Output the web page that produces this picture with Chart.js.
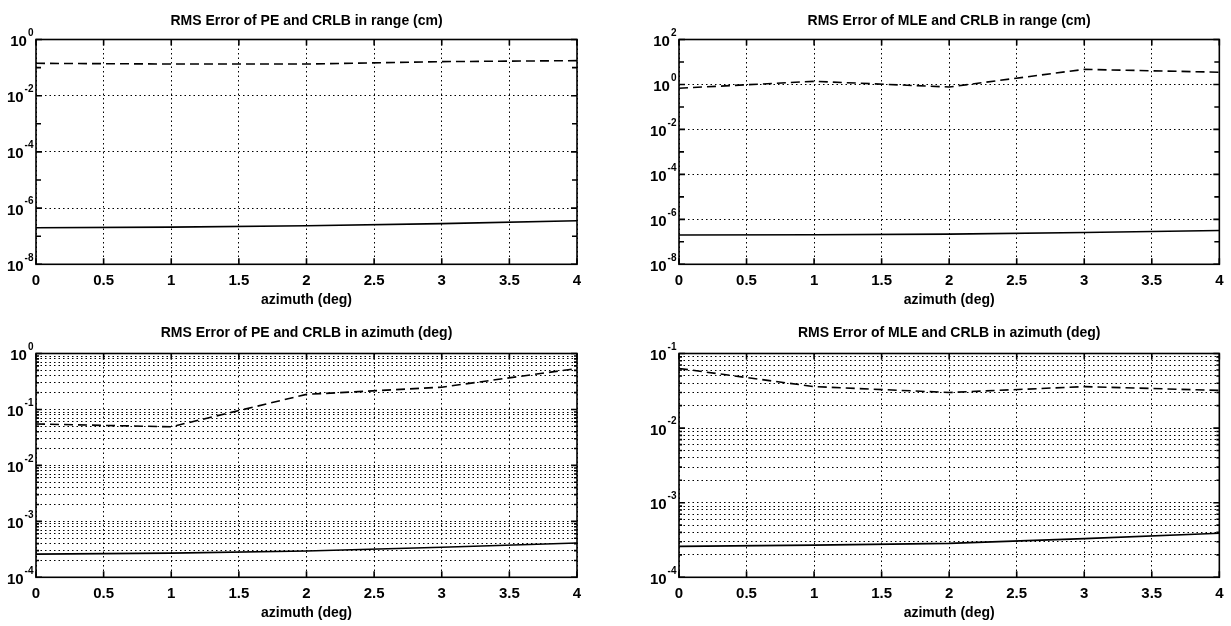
<!DOCTYPE html>
<html lang="en">
<head>
<meta charset="UTF-8" />
<title>RMS Error of PE / MLE and CRLB</title>
<style>
  body { margin: 0; background: #fff; }
  .wrap { position: relative; width: 1231px; height: 626px; }
  .wrap canvas { position: absolute; }
</style>
</head>
<body>
<div class="wrap">
  <canvas id="peRange" width="615" height="313" style="left:0;top:0"></canvas>
  <canvas id="mleRange" width="616" height="313" style="left:615px;top:0"></canvas>
  <canvas id="peAz" width="615" height="313" style="left:0;top:313px"></canvas>
  <canvas id="mleAz" width="616" height="313" style="left:615px;top:313px"></canvas>
</div>

<script src="https://cdn.jsdelivr.net/npm/chart.js"></script>
<script>
// azimuth values where the curves were computed
const azimuth = [0, 1, 2, 3, 4];
const xTicks = [0, 0.5, 1, 1.5, 2, 2.5, 3, 3.5, 4];

// range error (cm)
const peRangeErr = [0.142, 0.134, 0.134, 0.163, 0.177];
const peRangeCrlb = [2.0e-7, 2.1e-7, 2.35e-7, 2.8e-7, 3.55e-7];
const mleRangeErr = [0.68, 1.38, 0.77, 4.7, 3.5];
const mleRangeCrlb = [2.0e-7, 2.05e-7, 2.2e-7, 2.6e-7, 3.2e-7];

// azimuth error (deg)
const peAzErr = [0.055, 0.049, 0.186, 0.25, 0.54];
const peAzCrlb = [2.6e-4, 2.7e-4, 2.95e-4, 3.45e-4, 4.1e-4];
const mleAzErr = [0.063, 0.036, 0.030, 0.036, 0.032];
const mleAzCrlb = [2.6e-4, 2.7e-4, 2.85e-4, 3.3e-4, 3.9e-4];

// y ticks
const peRangeTicks = [1e-8, 1e-6, 1e-4, 1e-2, 1];
const peRangeMinor = [1e-7, 1e-5, 1e-3, 1e-1];
const mleRangeTicks = [1e-8, 1e-6, 1e-4, 1e-2, 1, 100];
const mleRangeMinor = [1e-7, 1e-5, 1e-3, 1e-1, 10];
const peAzTicks = [
  1e-4, 2e-4, 3e-4, 4e-4, 5e-4, 6e-4, 7e-4, 8e-4, 9e-4,
  1e-3, 2e-3, 3e-3, 4e-3, 5e-3, 6e-3, 7e-3, 8e-3, 9e-3,
  1e-2, 2e-2, 3e-2, 4e-2, 5e-2, 6e-2, 7e-2, 8e-2, 9e-2,
  1e-1, 2e-1, 3e-1, 4e-1, 5e-1, 6e-1, 7e-1, 8e-1, 9e-1, 1
];
const mleAzTicks = [
  1e-4, 2e-4, 3e-4, 4e-4, 5e-4, 6e-4, 7e-4, 8e-4, 9e-4,
  1e-3, 2e-3, 3e-3, 4e-3, 5e-3, 6e-3, 7e-3, 8e-3, 9e-3,
  1e-2, 2e-2, 3e-2, 4e-2, 5e-2, 6e-2, 7e-2, 8e-2, 9e-2, 1e-1
];

const FONT = "'Liberation Sans', Arial, Helvetica, sans-serif";

// exponent of a power of ten, or null
function decade(v) {
  const e = Math.log10(v);
  return Math.abs(e - Math.round(e)) > 1e-6 ? null : Math.round(e);
}

// matlab style box with inward tick marks and 10^n labels
const frameTicks = {
  id: "frameTicks",
  afterDraw(chart, args, opts) {
    const { ctx, chartArea: a, scales } = chart;
    const x = scales.x, y = scales.y;
    ctx.save();
    ctx.strokeStyle = "#000";
    ctx.lineWidth = 1.6;
    ctx.beginPath();
    xTicks.forEach((v) => {
      const px = x.getPixelForValue(v);
      ctx.moveTo(px, a.bottom); ctx.lineTo(px, a.bottom - 6);
      ctx.moveTo(px, a.top); ctx.lineTo(px, a.top + 6);
    });
    y.ticks.forEach((t) => {
      const py = y.getPixelForValue(t.value);
      const len = decade(t.value) !== null ? 6 : 3;
      ctx.moveTo(a.left, py); ctx.lineTo(a.left + len, py);
      ctx.moveTo(a.right, py); ctx.lineTo(a.right - len, py);
    });
    (opts.marks || []).forEach((v) => {
      const py = y.getPixelForValue(v);
      ctx.moveTo(a.left, py); ctx.lineTo(a.left + 5, py);
      ctx.moveTo(a.right, py); ctx.lineTo(a.right - 5, py);
    });
    ctx.stroke();
    ctx.strokeRect(a.left, a.top, a.width, a.height);

    // y labels: "10" with raised exponent
    ctx.fillStyle = "#000";
    ctx.textAlign = "right";
    ctx.textBaseline = "middle";
    y.ticks.forEach((t) => {
      const e = decade(t.value);
      if (e === null) return;
      const py = y.getPixelForValue(t.value);
      const ex = String(e);
      ctx.font = "bold 10px " + FONT;
      ctx.fillText(ex, a.left - 2.5, py - 6.5);
      const w = ctx.measureText(ex).width;
      ctx.font = "bold 15px " + FONT;
      ctx.fillText("10", a.left - 3.5 - w, py + 2.3);
    });
    ctx.restore();
  },
};

function plot(id, cfg) {
  const leftCol = cfg.col === 0;
  const topRow = cfg.row === 0;
  const pts = (arr) => azimuth.map((a, i) => ({ x: a, y: arr[i] }));
  return new Chart(document.getElementById(id), {
    type: "line",
    data: {
      datasets: [
        { data: pts(cfg.err), borderColor: "#000", borderWidth: 1.6, borderDash: [9, 5], pointRadius: 0, tension: 0 },
        { data: pts(cfg.crlb), borderColor: "#000", borderWidth: 1.6, pointRadius: 0, tension: 0 },
      ],
    },
    options: {
      responsive: false,
      animation: false,
      events: [],
      layout: { padding: { left: leftCol ? 0 : 28, right: leftCol ? 38 : 11, top: 0, bottom: 0 } },
      plugins: {
        legend: { display: false },
        tooltip: { enabled: false },
        title: {
          display: true,
          text: cfg.title,
          fullSize: false,
          color: "#000",
          font: { family: FONT, size: 14, weight: "bold" },
          padding: topRow ? { top: 12.6, bottom: 10.1 } : { top: 11.6, bottom: 12.1 },
        },
        frameTicks: { marks: cfg.marks || [] },
      },
      scales: {
        x: {
          type: "linear",
          min: 0,
          max: 4,
          afterBuildTicks: (s) => { s.ticks = xTicks.map((v) => ({ value: v })); },
          afterFit: (s) => { s.height = 48.7; },
          ticks: {
            color: "#000",
            font: { family: FONT, size: 15, weight: "bold" },
            padding: 7.5,
            autoSkip: false,
            maxRotation: 0,
            callback: (v) => String(v),
          },
          grid: { color: "#000", lineWidth: 1, drawTicks: false },
          border: { display: false, dash: [1.5, 3] },
          title: {
            display: true,
            text: "azimuth (deg)",
            color: "#000",
            font: { family: FONT, size: 14, weight: "bold" },
            padding: { top: 0, bottom: 4.6 },
          },
        },
        y: {
          type: "logarithmic",
          min: cfg.yTicks[0],
          max: cfg.yTicks[cfg.yTicks.length - 1],
          afterBuildTicks: (s) => { s.ticks = cfg.yTicks.map((v) => ({ value: v })); },
          afterFit: (s) => { s.width = 36; },
          ticks: { display: false, autoSkip: false },
          grid: { color: "#000", lineWidth: 1, drawTicks: false },
          border: { display: false, dash: [1.5, 3] },
        },
      },
    },
    plugins: [frameTicks],
  });
}

plot("peRange", { col: 0, row: 0, title: "RMS Error of PE and CRLB in range (cm)",
  err: peRangeErr, crlb: peRangeCrlb, yTicks: peRangeTicks, marks: peRangeMinor });
plot("mleRange", { col: 1, row: 0, title: "RMS Error of MLE and CRLB in range (cm)",
  err: mleRangeErr, crlb: mleRangeCrlb, yTicks: mleRangeTicks, marks: mleRangeMinor });
plot("peAz", { col: 0, row: 1, title: "RMS Error of PE and CRLB in azimuth (deg)",
  err: peAzErr, crlb: peAzCrlb, yTicks: peAzTicks });
plot("mleAz", { col: 1, row: 1, title: "RMS Error of MLE and CRLB in azimuth (deg)",
  err: mleAzErr, crlb: mleAzCrlb, yTicks: mleAzTicks });
</script>
</body>
</html>
